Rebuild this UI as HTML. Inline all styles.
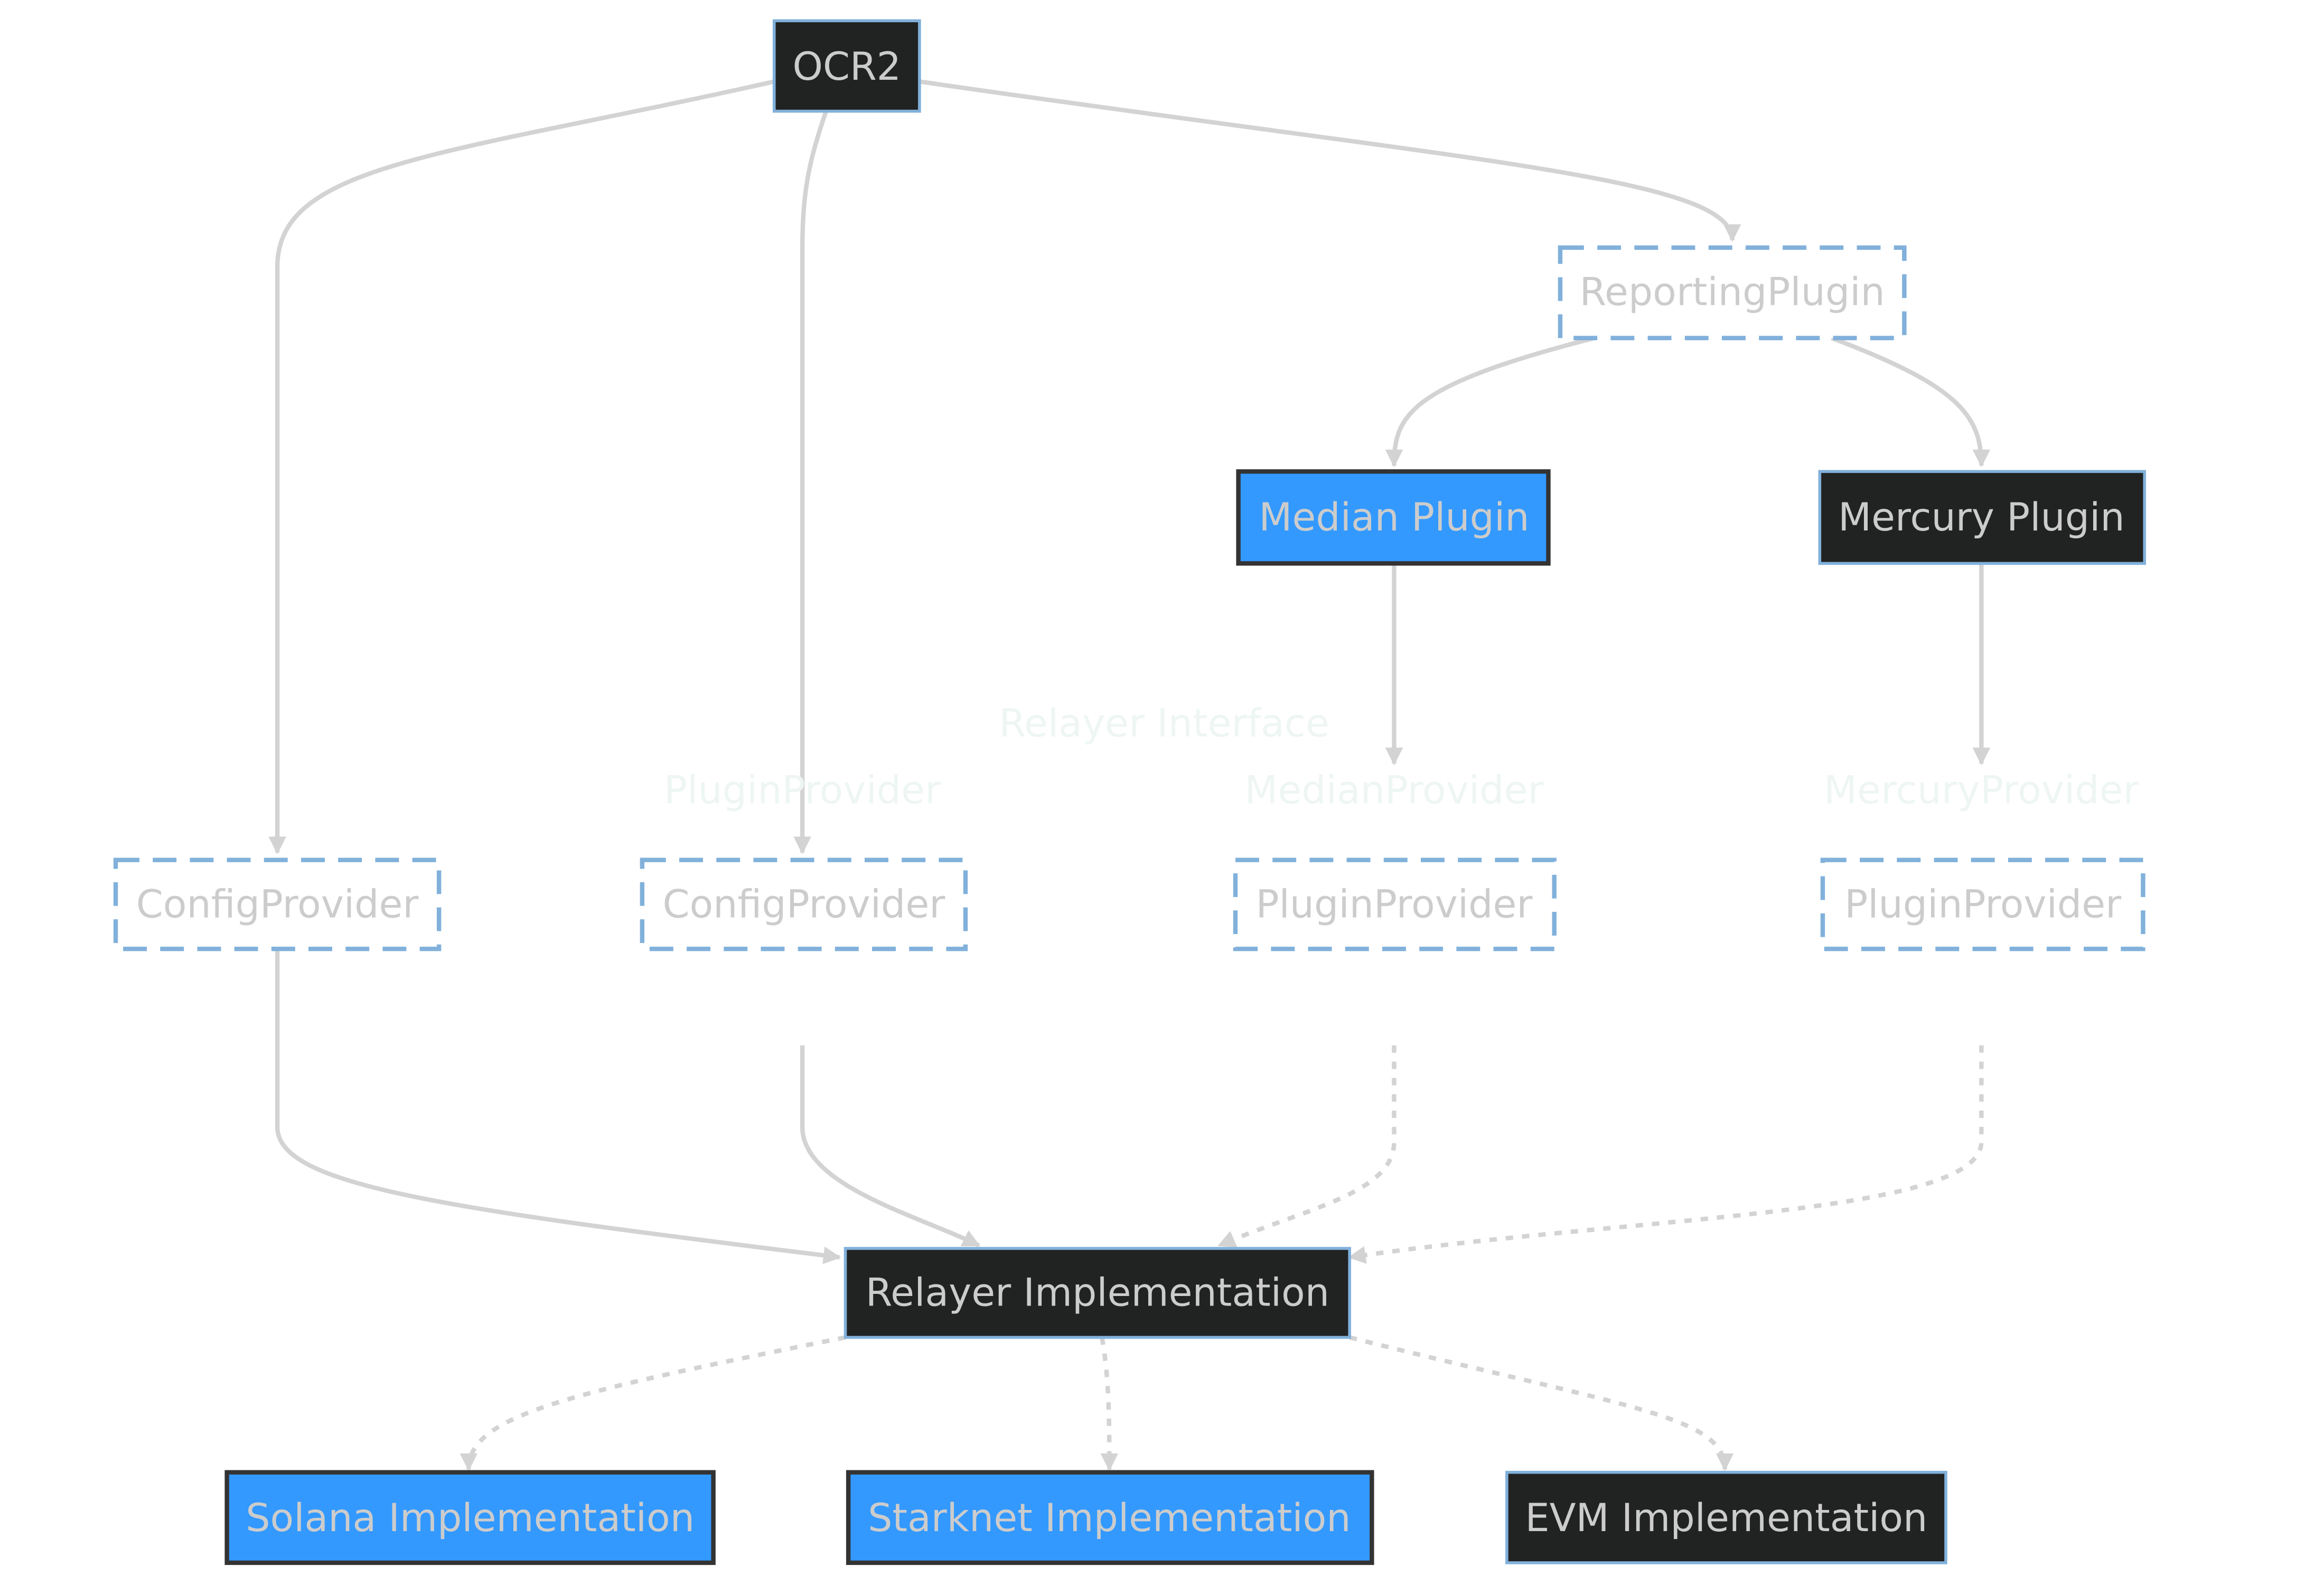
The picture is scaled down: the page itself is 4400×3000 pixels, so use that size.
<!DOCTYPE html>
<html><head><meta charset="utf-8"><style>
html,body{margin:0;padding:0;background:#fff;}
svg{display:block;}
text{font-family:"DejaVu Sans","Liberation Sans",sans-serif;font-size:26px;text-anchor:middle;dominant-baseline:central;}
</style></head><body>
<svg width="4400" height="3000" viewBox="0 0 1567 1069" preserveAspectRatio="none" xmlns="http://www.w3.org/2000/svg">
<defs>
<marker id="a" viewBox="0 0 10 10" refX="9" refY="5" markerWidth="4" markerHeight="4" orient="auto"><path d="M0,0L10,5L0,10z" fill="#d3d3d3"/></marker>
</defs>
<g fill="none" stroke="#d3d3d3" stroke-width="3" marker-end="url(#a)">
<path d="M522,55 C300,105 187,110 187,180 L187,575"/>
<path d="M557,75 C545,110 541,130 541,170 L541,575"/>
<path d="M620,55 C1000,110 1168,120 1168,162"/>
<path d="M1075,228 C950,260 940,280 940,314"/>
<path d="M1235,228 C1320,260 1336,280 1336,314"/>
<path d="M940,380 L940,515"/>
<path d="M1336,380 L1336,515"/>
<path d="M187,640 L187,760 C187,800 300,815 566,848"/>
<path d="M541,705 L541,760 C541,800 620,820 660,840"/>
<path d="M940,705 L940,770 C940,805 880,815 822,840" stroke-dasharray="5,6"/>
<path d="M1336,705 L1336,770 C1336,820 1100,820 910,848" stroke-dasharray="5,6"/>
<path d="M570,902 C380,940 316,955 316,991" stroke-dasharray="5,6"/>
<path d="M743,902 C748,930 748,960 748,991" stroke-dasharray="5,6"/>
<path d="M910,902 C1100,950 1163,955 1163,991" stroke-dasharray="5,6"/>
</g>
<g stroke-width="3">
<rect x="522" y="14" width="98" height="61" fill="#212322" stroke="#81b1db" stroke-width="2"/>
<rect x="1052" y="167" width="232" height="61" fill="#fff" stroke="#81b1db" stroke-dasharray="16,9"/>
<rect x="835" y="318" width="209" height="62" fill="#3399ff" stroke="#333"/>
<rect x="1227" y="318" width="219" height="62" fill="#212322" stroke="#81b1db" stroke-width="2"/>
<rect x="78" y="580" width="218" height="60" fill="#fff" stroke="#81b1db" stroke-dasharray="16,9"/>
<rect x="433" y="580" width="218" height="60" fill="#fff" stroke="#81b1db" stroke-dasharray="16,9"/>
<rect x="833" y="580" width="215" height="60" fill="#fff" stroke="#81b1db" stroke-dasharray="16,9"/>
<rect x="1229" y="580" width="216" height="60" fill="#fff" stroke="#81b1db" stroke-dasharray="16,9"/>
<rect x="570" y="842" width="340" height="60" fill="#212322" stroke="#81b1db" stroke-width="2"/>
<rect x="153" y="993" width="328" height="61" fill="#3399ff" stroke="#333"/>
<rect x="572" y="993" width="353" height="61" fill="#3399ff" stroke="#333"/>
<rect x="1016" y="993" width="296" height="61" fill="#212322" stroke="#81b1db" stroke-width="2"/>
</g>
<g fill="#cccccc">
<text x="571" y="45">OCR2</text>
<text x="1168" y="197">ReportingPlugin</text>
<text x="940" y="349">Median Plugin</text>
<text x="1336" y="349">Mercury Plugin</text>
<text x="187" y="610">ConfigProvider</text>
<text x="542" y="610">ConfigProvider</text>
<text x="940" y="610">PluginProvider</text>
<text x="1337" y="610">PluginProvider</text>
<text x="740" y="872">Relayer Implementation</text>
<text x="317" y="1024">Solana Implementation</text>
<text x="748" y="1024">Starknet Implementation</text>
<text x="1164" y="1024">EVM Implementation</text>
</g>
<g fill="#eef6f3">
<text x="785" y="488">Relayer Interface</text>
<text x="541" y="533">PluginProvider</text>
<text x="940" y="533">MedianProvider</text>
<text x="1336" y="533">MercuryProvider</text>
</g>
</svg>
</body></html>
